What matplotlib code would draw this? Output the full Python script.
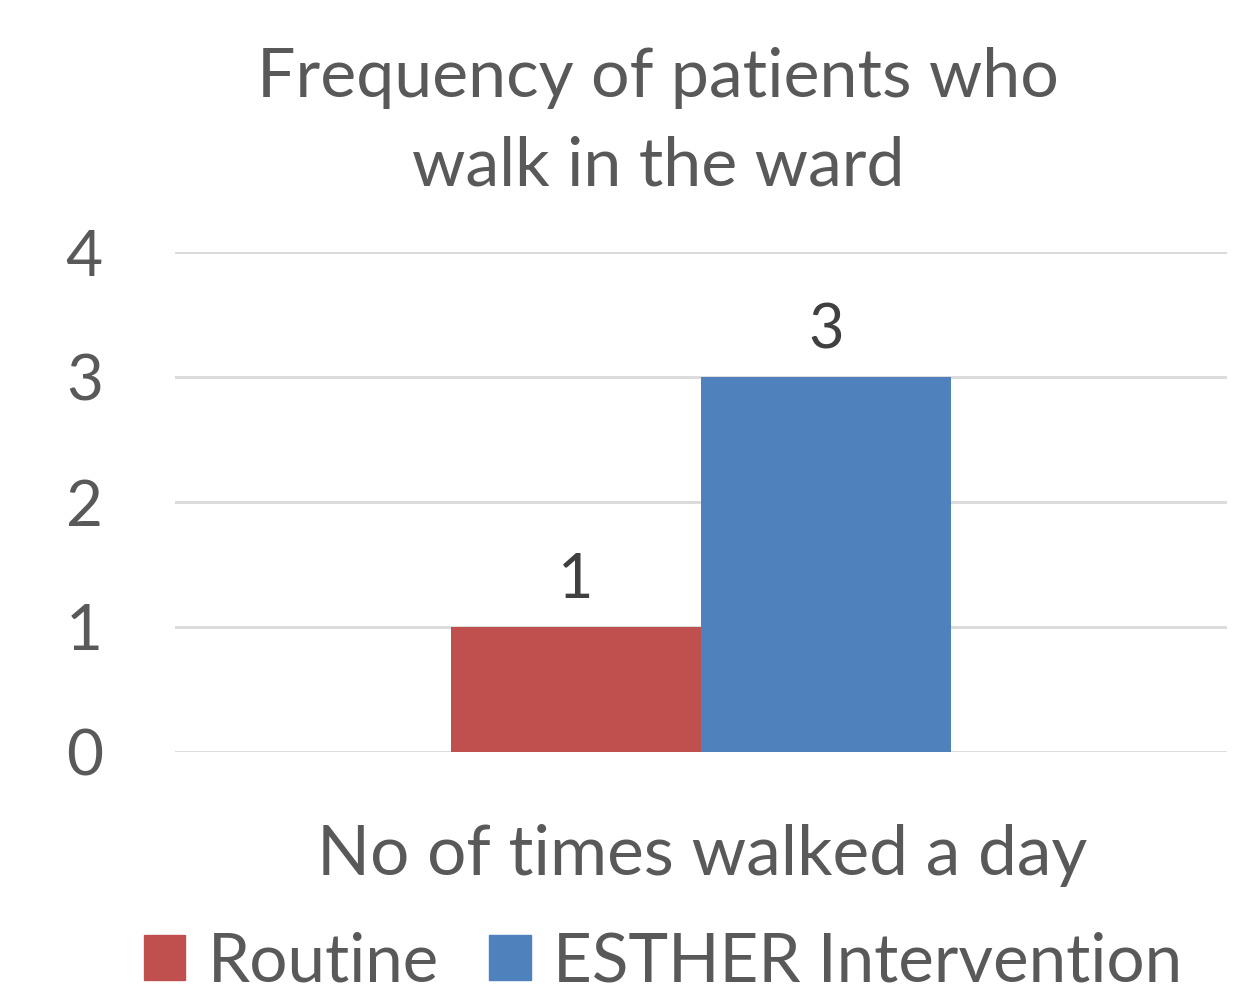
import numpy as np
import matplotlib
matplotlib.use("Agg")
import matplotlib.pyplot as plt
from matplotlib.patches import Patch

plt.rcParams['font.family'] = ['Lato', 'DejaVu Sans']

category = "No of times walked a day"
series = ["Routine", "ESTHER Intervention"]
values = [1, 3]
colors = ["#C0504D", "#4F81BD"]
yticks = [0, 1, 2, 3, 4]
title = "Frequency of patients who\nwalk in the ward"

text_col = "#595959"

fig = plt.figure(figsize=(12.34, 9.98), dpi=100)
ax = fig.add_axes([175 / 1234, 246 / 998, 1052 / 1234, 500 / 998])

width = 250 / 1052
offsets = np.array([-0.5, 0.5]) * width
for off, v, c in zip(offsets, values, colors):
    ax.bar(off, v, width=width, color=c, zorder=3)
    ax.text(off, v + 0.14, str(v), ha='center', va='bottom',
            fontsize=44, color="#404040")

ax.set_xlim(-0.5, 0.5)
ax.set_ylim(0, 4)
ax.set_yticks(yticks)
ax.set_yticklabels([str(t) for t in yticks], fontsize=46, color=text_col)
ax.tick_params(axis='y', length=0, pad=52)
ax.set_xticks([])
ax.grid(axis='y', color="#D9D9D9", linewidth=2, zorder=0)
for s in ax.spines.values():
    s.set_visible(False)

fig.text(658 / 1234, 1 - 97 / 998, title.split("\n")[0], ha='center', va='baseline',
         fontsize=49, color=text_col)
fig.text(658 / 1234, 1 - 185 / 998, title.split("\n")[1], ha='center', va='baseline',
         fontsize=49, color=text_col)
fig.text(702 / 1234, 1 - 875 / 998, category, ha='center', va='baseline',
         fontsize=50, color=text_col)

handles = [Patch(color=c) for c in colors]
fig.legend(handles, series, loc='center', bbox_to_anchor=(663 / 1234, 1 - 962 / 998),
           ncol=2, frameon=False, fontsize=48.5, labelcolor=text_col,
           handlelength=0.62, handleheight=0.64, handletextpad=0.33, columnspacing=0.75)

fig.savefig("out.png", dpi=100)
